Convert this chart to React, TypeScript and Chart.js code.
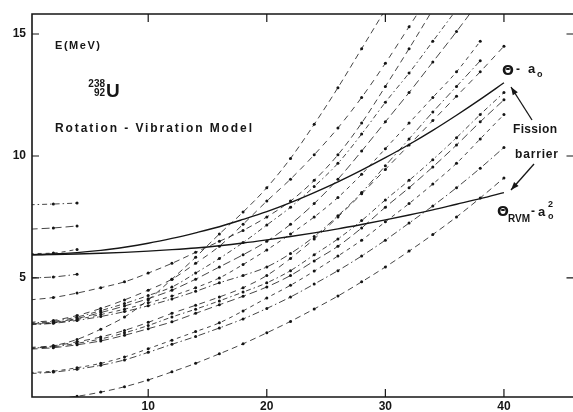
import React, { useEffect, useRef } from 'react';
import { Chart, registerables } from 'chart.js';
Chart.register(...registerables);

// Spin values I (even), x axis
const spins = [0, 2, 4, 6, 8, 10, 12, 14, 16, 18, 20, 22, 24, 26, 28, 30, 32, 34, 36, 38, 40];

// Rotational band energies E(MeV) read at each even spin
const ground = [0, 0.05, 0.15, 0.32, 0.54, 0.82, 1.15, 1.5, 1.89, 2.3, 2.75, 3.22, 3.73, 4.26, 4.84, 5.45, 6.1, 6.78, 7.5, 8.28, 9.1];
const band1a = [1.08, 1.14, 1.26, 1.42, 1.64, 1.95, 2.28, 2.6, 2.95, 3.32, 3.75, 4.22, 4.75, 5.3, 5.9, 6.55, 7.25, 7.95, 8.7, 9.5, 10.35];
const band1b = [1.12, 1.18, 1.32, 1.5, 1.76, 2.1, 2.45, 2.8, 3.16, 3.65, 4.18, 4.7, 5.28, 5.9, 6.55, 7.3, 8.05, 8.85, 9.7, 10.7, 11.7];
const band2a = [2.08, 2.14, 2.26, 2.42, 2.65, 2.92, 3.2, 3.55, 3.9, 4.25, 4.63, 5.1, 5.7, 6.3, 7.05, 7.9, 8.7, 9.55, 10.45, 11.4, 12.3];
const band2b = [2.12, 2.18, 2.32, 2.5, 2.75, 3.05, 3.4, 3.72, 4.06, 4.42, 4.8, 5.3, 5.95, 6.6, 7.35, 8.2, 9.0, 9.85, 10.75, 11.7, 12.6];
const band2c = [2.15, 2.22, 2.38, 2.58, 2.85, 3.18, 3.55, 3.88, 4.22, 4.6, 5.1, 5.8, 6.6, 7.5, 8.45, 9.45, 10.45, 11.45, 12.45, 13.45, 14.5];
const band2s = [2.1, 2.22, 2.48, 2.9, 3.4, 4.1, 4.95, 5.85, 6.8, 7.7, 8.7, 9.9, 11.3, 12.8, 14.4, 16.0];
const band3a = [3.08, 3.14, 3.26, 3.42, 3.62, 3.86, 4.14, 4.45, 4.8, 5.1, 5.45, 6.0, 6.7, 7.55, 8.5, 9.6, 10.7, 11.8, 12.85, 13.9];
const band3b = [3.1, 3.16, 3.3, 3.5, 3.72, 3.98, 4.26, 4.6, 5.0, 5.55, 6.15, 6.8, 7.5, 8.3, 9.25, 10.3, 11.35, 12.4, 13.45, 14.7];
const band3c = [3.12, 3.18, 3.34, 3.58, 3.85, 4.15, 4.5, 4.95, 5.45, 5.95, 6.5, 7.2, 8.05, 9.05, 10.2, 11.4, 12.6, 13.85, 15.1, 16.4];
const band3d = [3.15, 3.22, 3.4, 3.66, 3.95, 4.28, 4.63, 5.2, 5.8, 6.45, 7.17, 7.9, 8.75, 9.7, 10.9, 12.2, 13.4, 14.7, 16.0];
const band3s = [3.18, 3.26, 3.46, 3.75, 4.1, 4.5, 4.95, 5.6, 6.3, 7.2, 8.15, 9.05, 10.05, 11.15, 12.4, 13.8, 15.3, 16.8];
const band4a = [4.1, 4.2, 4.38, 4.6, 4.84, 5.2, 5.6, 6.05, 6.5, 6.95, 7.5, 8.15, 9.0, 10.05, 11.35, 12.85, 14.4, 16.0];
const band5 = [5.0, 5.04, 5.15];
const band6 = [6.0, 6.02, 6.17];
const band7 = [7.0, 7.05, 7.13];
const band8 = [8.0, 8.03, 8.07];

// Fission barrier curves
const barrierRigid = [5.95, 5.98, 6.04, 6.13, 6.26, 6.42, 6.62, 6.85, 7.1, 7.4, 7.72, 8.09, 8.5, 8.94, 9.42, 9.93, 10.47, 11.05, 11.67, 12.32, 13.0];
const barrierRVM = [5.95, 5.96, 5.98, 6.01, 6.05, 6.1, 6.16, 6.23, 6.32, 6.43, 6.56, 6.7, 6.85, 7.01, 7.19, 7.38, 7.58, 7.79, 8.02, 8.25, 8.5];

// Tick labels
const xTicks = [10, 20, 30, 40];
const yTicks = [5, 10, 15];

const bands = [ground, band1a, band1b, band2a, band2b, band2c, band2s, band3a, band3b, band3c, band3d, band3s, band4a, band5, band6, band7, band8];
const dashes = [[6, 4], [7, 3, 1.5, 3], [4, 4], [8, 4], [5, 3, 1.5, 3], [6, 5]];

const toPts = (vals: number[]) => vals.map((e, i) => ({ x: spins[i], y: e }));

const INK = '#161616';

function spaced(ctx: CanvasRenderingContext2D, text: string, x: number, y: number, width: number) {
  const anyCtx = ctx as any;
  anyCtx.letterSpacing = '0px';
  const w = ctx.measureText(text).width;
  const extra = text.length > 1 ? (width - w) / (text.length - 1) : 0;
  anyCtx.letterSpacing = `${Math.max(0, extra)}px`;
  ctx.textAlign = 'left';
  ctx.fillText(text, x, y);
  anyCtx.letterSpacing = '0px';
}

function arrow(ctx: CanvasRenderingContext2D, x1: number, y1: number, x2: number, y2: number) {
  ctx.beginPath();
  ctx.moveTo(x1, y1);
  ctx.lineTo(x2, y2);
  ctx.stroke();
  const ang = Math.atan2(y2 - y1, x2 - x1);
  const L = 8, W = 3;
  ctx.beginPath();
  ctx.moveTo(x2, y2);
  ctx.lineTo(x2 - L * Math.cos(ang) + W * Math.sin(ang), y2 - L * Math.sin(ang) - W * Math.cos(ang));
  ctx.lineTo(x2 - L * Math.cos(ang) - W * Math.sin(ang), y2 - L * Math.sin(ang) + W * Math.cos(ang));
  ctx.closePath();
  ctx.fill();
}

const decor = {
  id: 'decor',
  afterDatasetsDraw(chart: any) {
    const { ctx, chartArea: a, scales } = chart;
    const xs = scales.x, ys = scales.y;
    ctx.save();
    ctx.strokeStyle = INK;
    ctx.fillStyle = INK;
    ctx.lineWidth = 1.6;
    ctx.setLineDash([]);
    ctx.beginPath();
    ctx.moveTo(a.left, a.top);
    ctx.lineTo(a.left, a.bottom);
    ctx.lineTo(a.right, a.bottom);
    ctx.lineTo(a.right, a.top);
    ctx.closePath();
    ctx.stroke();

    ctx.lineWidth = 1.2;
    ctx.beginPath();
    for (const v of xTicks) {
      const px = xs.getPixelForValue(v);
      ctx.moveTo(px, a.bottom);
      ctx.lineTo(px, a.bottom - 8);
      ctx.moveTo(px, a.top);
      ctx.lineTo(px, a.top + 8);
    }
    for (const v of yTicks) {
      const py = ys.getPixelForValue(v);
      ctx.moveTo(a.left, py);
      ctx.lineTo(a.left + 7, py);
      ctx.moveTo(a.right, py);
      ctx.lineTo(a.right - 8, py);
    }
    ctx.stroke();

    ctx.font = 'bold 12px "Liberation Sans", Arial, sans-serif';
    ctx.textBaseline = 'middle';
    ctx.textAlign = 'right';
    for (const v of yTicks) {
      ctx.fillText(String(v), a.left - 6, ys.getPixelForValue(v));
    }
    ctx.textAlign = 'center';
    for (const v of xTicks) {
      ctx.fillText(String(v), xs.getPixelForValue(v), 407);
    }

    // Labels
    ctx.textBaseline = 'alphabetic';
    ctx.font = 'bold 11px "Liberation Sans", Arial, sans-serif';
    spaced(ctx, 'E(MeV)', 55, 49, 45);

    ctx.font = 'bold 10px "Liberation Sans", Arial, sans-serif';
    ctx.textAlign = 'right';
    ctx.fillText('238', 105, 87);
    ctx.fillText('92', 105, 96);
    ctx.textAlign = 'left';
    ctx.font = 'bold 19px "Liberation Sans", Arial, sans-serif';
    ctx.fillText('U', 106, 97);

    ctx.font = 'bold 12px "Liberation Sans", Arial, sans-serif';
    spaced(ctx, 'Rotation - Vibration Model', 55, 132, 197);

    spaced(ctx, 'Fission', 513, 133, 44);
    spaced(ctx, 'barrier', 515, 158, 43);

    // Θ ~ a0
    ctx.font = 'bold 14px "DejaVu Sans", sans-serif';
    ctx.textAlign = 'left';
    ctx.fillText('Θ', 502, 75);
    ctx.font = 'bold 12px "Liberation Sans", Arial, sans-serif';
    ctx.fillText('-', 516, 73);
    ctx.font = 'bold 13px "Liberation Sans", Arial, sans-serif';
    ctx.fillText('a', 528, 73);
    ctx.font = 'bold 9px "Liberation Sans", Arial, sans-serif';
    ctx.fillText('o', 537, 77);

    // Θ_RVM ~ a0^2
    ctx.font = 'bold 14px "DejaVu Sans", sans-serif';
    ctx.fillText('Θ', 497, 216);
    ctx.font = 'bold 10px "Liberation Sans", Arial, sans-serif';
    ctx.fillText('RVM', 508, 222);
    ctx.font = 'bold 12px "Liberation Sans", Arial, sans-serif';
    ctx.fillText('-', 531, 215);
    ctx.font = 'bold 13px "Liberation Sans", Arial, sans-serif';
    ctx.fillText('a', 538, 216);
    ctx.font = 'bold 9px "Liberation Sans", Arial, sans-serif';
    ctx.fillText('2', 548, 207);
    ctx.fillText('o', 548, 219);

    ctx.lineWidth = 1.3;
    arrow(ctx, 532, 120, 511, 87);
    arrow(ctx, 534, 164, 511, 190);
    ctx.restore();
  },
};

export default function App() {
  const ref = useRef<HTMLCanvasElement>(null);
  useEffect(() => {
    if (!ref.current) return;
    const datasets: any[] = bands.map((b, i) => ({
      data: toPts(b),
      borderColor: INK,
      borderWidth: 0.8,
      borderDash: dashes[i % dashes.length],
      cubicInterpolationMode: 'monotone',
      pointRadius: (c: any) => (c.dataIndex === 0 ? 0 : 1.5),
      pointBackgroundColor: INK,
      pointBorderWidth: 0,
      pointHoverRadius: 0,
      fill: false,
    }));
    [barrierRigid, barrierRVM].forEach((b) => {
      datasets.push({
        data: toPts(b),
        borderColor: INK,
        borderWidth: 1.4,
        borderDash: [],
        cubicInterpolationMode: 'monotone',
        pointRadius: 0,
        pointHoverRadius: 0,
        fill: false,
      });
    });
    const chart = new Chart(ref.current, {
      type: 'line',
      data: { datasets },
      options: {
        animation: false,
        responsive: false,
        layout: { padding: { left: 32, top: 14, right: 1, bottom: 15 } },
        scales: {
          x: { type: 'linear', display: false, min: 0.2, max: 45.95 },
          y: { type: 'linear', display: false, min: 0.12, max: 15.82 },
        },
        plugins: { legend: { display: false }, tooltip: { enabled: false } },
        events: [],
      },
      plugins: [decor],
    });
    return () => chart.destroy();
  }, []);
  return (
    <div style={{ position: 'fixed', left: 0, top: 0, width: 573, height: 412, overflow: 'hidden', background: '#fff' }}>
      <canvas ref={ref} width={576} height={412} style={{ display: 'block' }} />
    </div>
  );
}
